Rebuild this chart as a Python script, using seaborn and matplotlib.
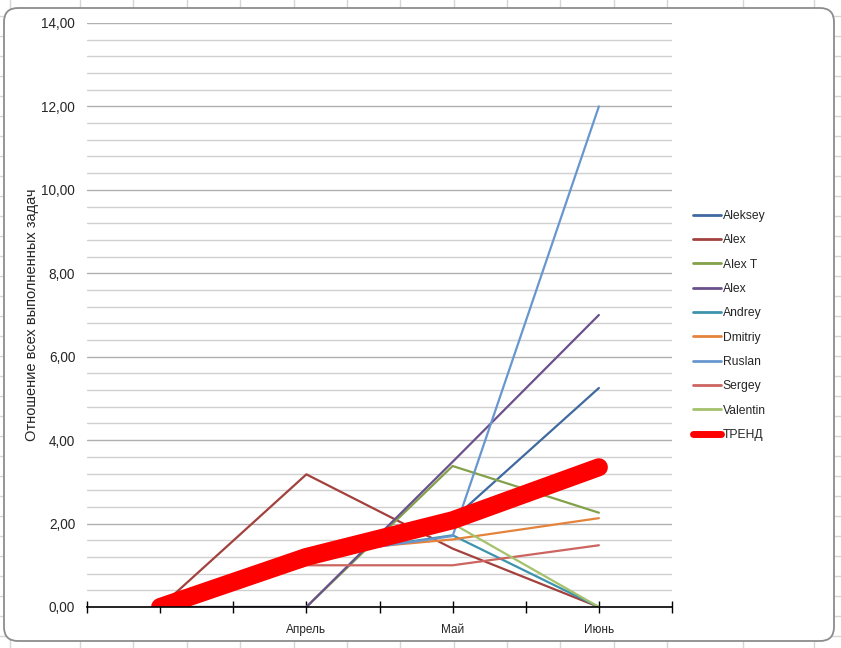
import pandas as pd
import seaborn as sns
import matplotlib
matplotlib.use("Agg")
import matplotlib.pyplot as plt
from matplotlib.patches import FancyBboxPatch
from matplotlib.lines import Line2D
from matplotlib.ticker import MultipleLocator

# данные
categories = ["", "Апрель", "Май", "Июнь"]
aleksey = [0.0, 1.30, 2.10, 5.25]
alex_z = [0.0, 3.18, 1.40, 0.0]
alex_t = [0.0, 0.0, 3.38, 2.26]
alex_p = [0.0, 0.0, 3.48, 7.00]
andrey = [0.0, 1.20, 1.72, 0.0]
dmitriy = [0.0, 1.30, 1.62, 2.13]
ruslan = [0.0, 1.20, 1.70, 12.00]
sergey = [0.0, 1.00, 1.00, 1.48]
valentin = [0.0, 1.30, 2.00, 0.0]
trend = [0.0, 1.20, 2.08, 3.35]

names = ["Aleksey", "Alex", "Alex T", "Alex", "Andrey", "Dmitriy", "Ruslan", "Sergey", "Valentin"]
series = [aleksey, alex_z, alex_t, alex_p, andrey, dmitriy, ruslan, sergey, valentin]
colors = ["#4069A0", "#A2413D", "#83A04A", "#6B518C", "#3C93AC",
          "#E4843C", "#6896CF", "#CC6460", "#A4C26C"]

sns.set_theme(style="white")
plt.rcParams["font.family"] = ["Liberation Sans", "DejaVu Sans"]

W, H = 841, 648
fig = plt.figure(figsize=(W / 100, H / 100), dpi=100)
fig.patch.set_facecolor("white")

# сетка ячеек Excel за диаграммой
for x in [10, 80, 133, 187, 240, 294, 347, 400, 454, 507, 560, 614, 667, 743, 814]:
    fig.add_artist(Line2D([x / W, x / W], [0, 1], transform=fig.transFigure,
                          color="#D6D6D6", lw=1, zorder=-3))
for y in range(16, H, 20):
    fig.add_artist(Line2D([0, 1], [1 - y / H, 1 - y / H], transform=fig.transFigure,
                          color="#D6D6D6", lw=1, zorder=-3))

# рамка области диаграммы
box = FancyBboxPatch((4 / 100, (H - 641) / 100), 830 / 100, 633 / 100,
                     boxstyle="round,pad=0,rounding_size=0.14",
                     transform=fig.dpi_scale_trans, facecolor="white",
                     edgecolor="#8C8C8C", lw=1.3, zorder=-1)
fig.add_artist(box)

ax = fig.add_axes([87 / W, 1 - 607 / H, (672 - 87) / W, (607 - 23) / H])
ax.set_facecolor("none")

xpos = list(range(len(categories)))
for name, vals, c in zip(names, series, colors):
    sns.lineplot(x=xpos, y=vals, ax=ax, color=c, lw=1.6, label=name)
sns.lineplot(x=xpos, y=trend, ax=ax, color="#FF0000", lw=13, label="ТРЕНД",
             solid_capstyle="round")

ax.set_xlim(-0.5, 3.5)
ax.set_ylim(0, 14)
ax.yaxis.set_major_locator(MultipleLocator(2))
ax.yaxis.set_minor_locator(MultipleLocator(0.4))
ax.set_yticklabels([f"{v:.2f}".replace(".", ",") for v in ax.get_yticks()])
ax.grid(which="major", axis="y", color="#B0B0B0", lw=1)
ax.grid(which="minor", axis="y", color="#D0D0D0", lw=1)
ax.set_axisbelow(True)

ax.set_xticks(xpos)
ax.set_xticklabels(categories)
ax.set_xticks([-0.5, 0.5, 1.5, 2.5, 3.5], minor=True)
ax.tick_params(axis="x", which="both", direction="inout", length=8, width=1,
               color="black", bottom=True, labelsize=8.5, pad=8)
ax.tick_params(axis="y", which="both", left=False, length=0, labelsize=9.8, pad=8.5)

for s in ["top", "right", "left"]:
    ax.spines[s].set_visible(False)
ax.spines["bottom"].set_color("black")
ax.spines["bottom"].set_linewidth(1.2)
ax.spines["bottom"].set_zorder(5)

ax.set_xlabel("")
ax.set_ylabel("Отношение всех выполненных задач", fontsize=10.5)
ax.yaxis.set_label_coords((39 - 87) / 585, 0.5)

leg = ax.legend(loc="upper left", bbox_to_anchor=(693 / W, 1 - 210 / H),
                bbox_transform=fig.transFigure, frameon=False, fontsize=8.7,
                handlelength=2.3, handletextpad=0.15, labelspacing=1.02,
                borderaxespad=0, borderpad=0)
leg.get_lines()[-1].set_linewidth(5)
for ln in leg.get_lines()[:-1]:
    ln.set_linewidth(2)

fig.savefig("out.png", dpi=100)
